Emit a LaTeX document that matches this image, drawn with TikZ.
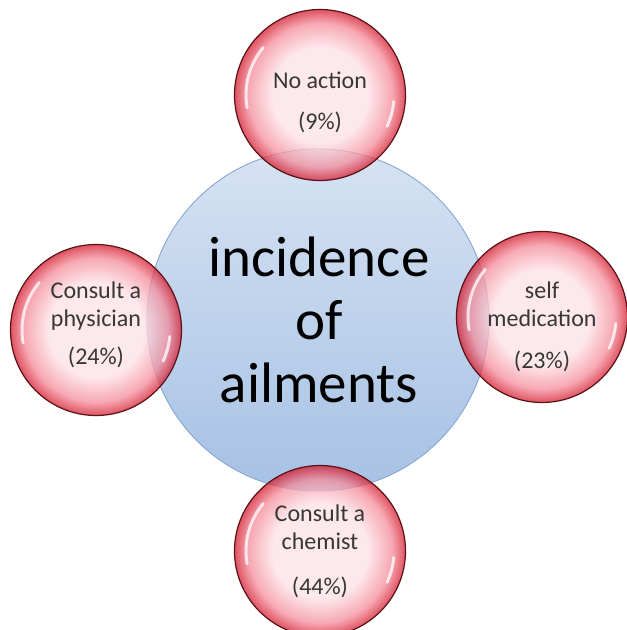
\documentclass[tikz,border=0pt]{standalone}
\usepackage{fontspec}
\setmainfont{Carlito}
\usetikzlibrary{calc}
\definecolor{bubblePale}{RGB}{252,224,230}
\definecolor{bubbleMid}{RGB}{244,140,154}
\definecolor{bubbleRim}{RGB}{212,26,46}
\definecolor{bubbleLine}{RGB}{90,18,22}
\definecolor{hubTop}{RGB}{214,227,243}
\definecolor{hubBottom}{RGB}{166,193,228}
\definecolor{hubLine}{RGB}{136,166,208}
\definecolor{labelGrey}{RGB}{55,55,55}
\pgfdeclareradialshading{bubbleshade}{\pgfpoint{0bp}{0bp}}{color(0bp)=(bubblePale); color(14bp)=(bubblePale); color(21bp)=(bubbleMid); color(25bp)=(bubbleRim); color(50bp)=(bubbleRim)}
\tikzset{
  hub/.style={circle, draw=hubLine, line width=0.9pt, top color=hubTop, bottom color=hubBottom, minimum size=342pt, inner sep=0pt},
  bubble/.style={circle, draw=bubbleLine, line width=1.2pt, shading=bubbleshade, fill opacity=0.75, minimum size=171pt, inner sep=0pt},
  hubtext/.style={align=center, font=\fontsize{57}{63}\selectfont, text=black},
  bubbletext/.style={align=center, font=\fontsize{24}{28}\selectfont, text=labelGrey},
  gloss/.style={white, line width=3pt, line cap=round, opacity=0.75},
}
\begin{document}
\begin{tikzpicture}[x=1pt, y=1pt]
  \useasboundingbox (0,0) rectangle (627,-630);
  % central circle
  \node[hub] (hub) at (318,-320) {};
  % the four outcomes
  \node[bubble] (noact) at (320,-95) {};
  \node[bubble] (phys) at (96,-330) {};
  \node[bubble] (selfmed) at (542,-317) {};
  \node[bubble] (chem) at (320,-551) {};
  % glossy highlights
  \foreach \b in {noact,phys,selfmed,chem}{
    \draw[gloss] ($(\b)+(140:74)$) arc[start angle=140, end angle=190, radius=74];
    \draw[gloss] ($(\b)+(-5:74)$) arc[start angle=-5, end angle=-25, radius=74];
  }
  % texts
  \node[hubtext] (hubt) at (319,-320) {incidence\\of\\ailments};
  \node[bubbletext] (noactt) at (320,-102) {No action\\[13pt](9\%)};
  \node[bubbletext] (physt) at (96,-325) {Consult a\\physician\\[10pt](24\%)};
  \node[bubbletext] (selfmedt) at (542,-327) {self\\medication\\[14pt](23\%)};
  \node[bubbletext] (chemt) at (320,-551) {Consult a\\chemist\\[17pt](44\%)};
\end{tikzpicture}
\end{document}
